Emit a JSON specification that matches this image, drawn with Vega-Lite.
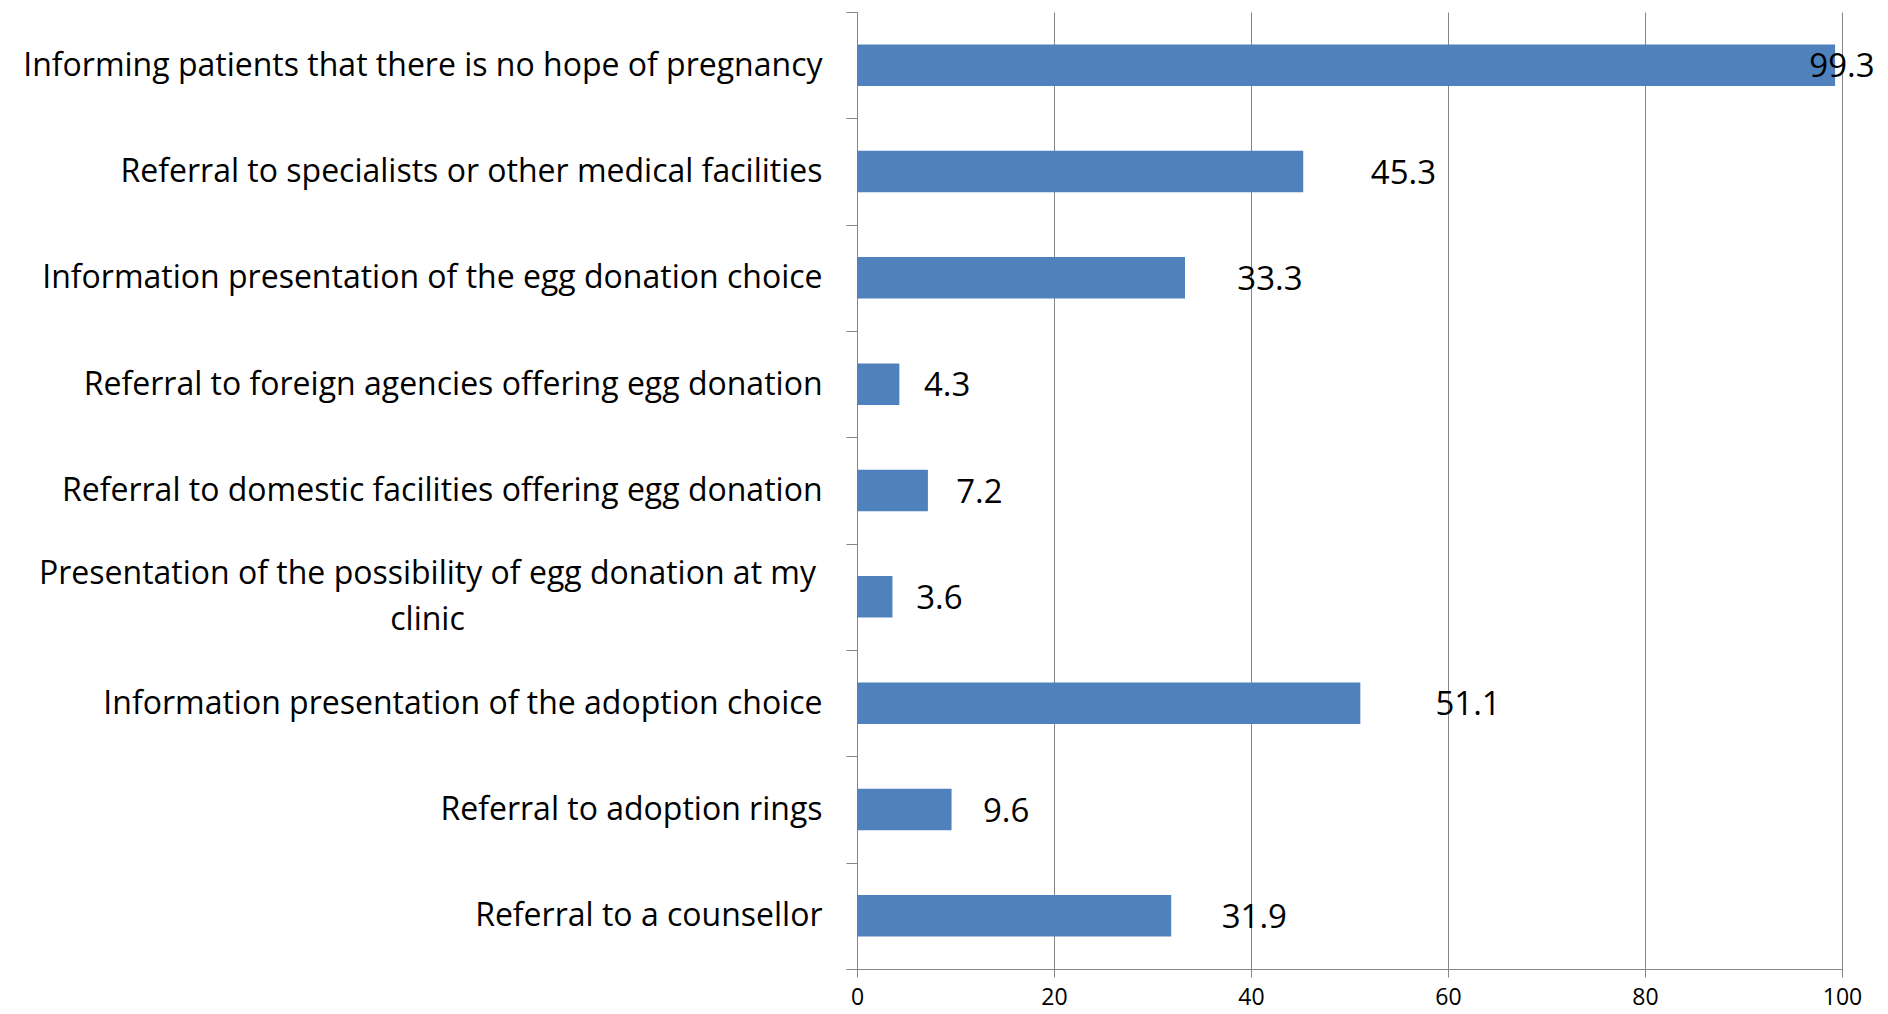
{
  "$schema": "https://vega.github.io/schema/vega-lite/v6.json",
  "width": 985,
  "height": 957,
  "autosize": {"type": "none"},
  "padding": {"left": 857, "top": 12, "right": 46, "bottom": 45},
  "background": "white",
  "config": {"view": {"stroke": null}, "font": "Open Sans"},
  "data": {
    "values": [
      {"item": "Informing patients that there is no hope of pregnancy", "pct": 99.3},
      {"item": "Referral to specialists or other medical facilities", "pct": 45.3},
      {"item": "Information presentation of the egg donation choice", "pct": 33.3},
      {"item": "Referral to foreign agencies offering egg donation", "pct": 4.3},
      {"item": "Referral to domestic facilities offering egg donation", "pct": 7.2},
      {"item": "Presentation of the possibility of egg donation at my clinic", "pct": 3.6},
      {"item": "Information presentation of the adoption choice", "pct": 51.1},
      {"item": "Referral to adoption rings", "pct": 9.6},
      {"item": "Referral to a counsellor", "pct": 31.9}
    ]
  },
  "encoding": {
    "y": {
      "field": "item",
      "type": "nominal",
      "sort": null,
      "scale": {"paddingInner": 0, "paddingOuter": 0},
      "axis": {
        "title": null,
        "tickBand": "extent",
        "grid": false,
        "domainColor": "#868686",
        "tickColor": "#868686",
        "tickSize": 11,
        "labelPadding": {"condition": {"test": "datum.value == 'Presentation of the possibility of egg donation at my clinic'", "value": 419}, "value": 24},
        "labelAlign": {"condition": {"test": "datum.value == 'Presentation of the possibility of egg donation at my clinic'", "value": "center"}, "value": "right"},
        "labelOffset": {"condition": {"test": "datum.value == 'Presentation of the possibility of egg donation at my clinic'", "value": -23}, "value": 0},
        "labelExpr": "datum.value == 'Presentation of the possibility of egg donation at my clinic' ? ['Presentation of the possibility of egg donation at my', 'clinic'] : datum.value",
        "labelFontSize": 32,
        "labelFont": "Open Sans",
        "labelColor": "black",
        "labelLimit": 0,
        "labelLineHeight": 46
      }
    }
  },
  "layer": [
    {
      "mark": {"type": "bar", "color": "#4F81BD", "height": {"band": 0.39}},
      "encoding": {
        "x": {
          "field": "pct",
          "type": "quantitative",
          "scale": {"domain": [0, 100], "nice": false},
          "axis": {
            "title": null,
            "values": [0, 20, 40, 60, 80, 100],
            "grid": true,
            "gridColor": "#868686",
            "domainColor": "#868686",
            "tickColor": "#868686",
            "tickSize": 8,
            "labelPadding": 9,
            "labelFontSize": 23,
            "labelFont": "Open Sans",
            "labelColor": "black",
            "labelFlush": false
          }
        }
      }
    },
    {
      "mark": {"type": "text", "align": "center", "baseline": "middle", "fontSize": 33, "font": "Open Sans", "color": "black", "dy": 2},
      "encoding": {
        "x": {
          "field": "pct",
          "type": "quantitative",
          "scale": {"domain": [-3.8, 84.7], "nice": false, "clamp": true},
          "axis": null
        },
        "text": {"field": "pct", "type": "quantitative", "format": ".1f"}
      }
    }
  ],
  "resolve": {"scale": {"x": "independent"}}
}
